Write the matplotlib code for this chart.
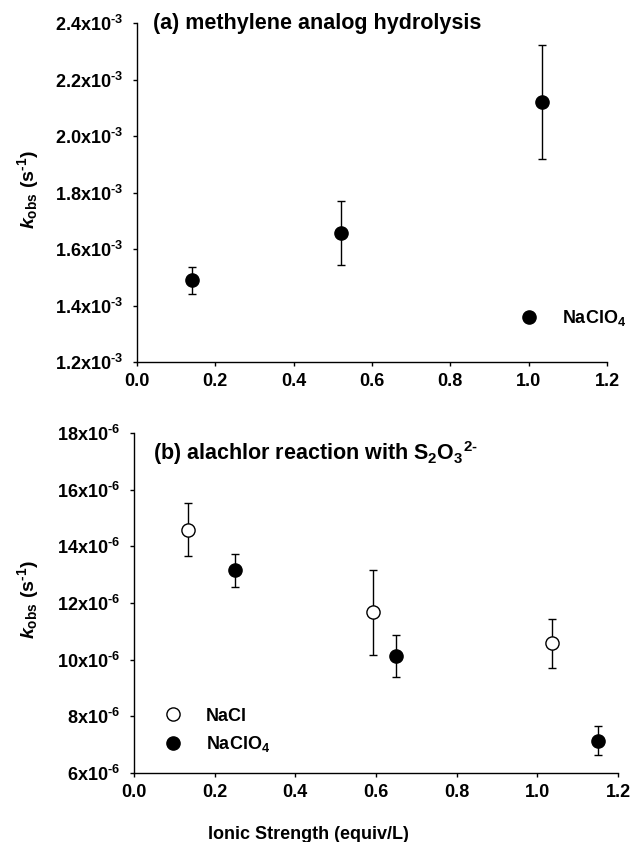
import matplotlib
matplotlib.use("Agg")
import matplotlib.pyplot as plt
from matplotlib.ticker import FixedLocator, FixedFormatter
from matplotlib.lines import Line2D

plt.rcParams['font.family'] = ['Liberation Sans', 'DejaVu Sans']
plt.rcParams['font.weight'] = 'bold'
plt.rcParams['mathtext.fontset'] = 'custom'
plt.rcParams['mathtext.rm'] = 'Liberation Sans:bold'
plt.rcParams['mathtext.bf'] = 'Liberation Sans:bold'
plt.rcParams['mathtext.it'] = 'Liberation Sans:bold:italic'
plt.rcParams['mathtext.sf'] = 'Liberation Sans:bold'

# ---- Panel (a) data: methylene analog hydrolysis, NaClO4 ----
a_x = [0.14, 0.52, 1.035]
a_y = [1.489e-3, 1.658e-3, 2.119e-3]
a_err_lo = [0.048e-3, 0.113e-3, 0.202e-3]
a_err_hi = [0.047e-3, 0.111e-3, 0.202e-3]
a_yticks = [1.2e-3, 1.4e-3, 1.6e-3, 1.8e-3, 2.0e-3, 2.2e-3, 2.4e-3]
a_yticklabels = [r'1.2x10$^{\text{-}3}$', r'1.4x10$^{\text{-}3}$', r'1.6x10$^{\text{-}3}$',
                 r'1.8x10$^{\text{-}3}$', r'2.0x10$^{\text{-}3}$', r'2.2x10$^{\text{-}3}$',
                 r'2.4x10$^{\text{-}3}$']

# ---- Panel (b) data: alachlor reaction with S2O3 2- ----
b_nacl_x = [0.135, 0.593, 1.037]
b_nacl_y = [14.59e-6, 11.67e-6, 10.59e-6]
b_nacl_lo = [0.93e-6, 1.49e-6, 0.87e-6]
b_nacl_hi = [0.94e-6, 1.48e-6, 0.86e-6]
b_naclo4_x = [0.25, 0.65, 1.15]
b_naclo4_y = [13.15e-6, 10.13e-6, 7.13e-6]
b_naclo4_lo = [0.59e-6, 0.73e-6, 0.49e-6]
b_naclo4_hi = [0.58e-6, 0.73e-6, 0.53e-6]
b_yticks = [6e-6, 8e-6, 10e-6, 12e-6, 14e-6, 16e-6, 18e-6]
b_yticklabels = [r'6x10$^{\text{-}6}$', r'8x10$^{\text{-}6}$', r'10x10$^{\text{-}6}$',
                 r'12x10$^{\text{-}6}$', r'14x10$^{\text{-}6}$', r'16x10$^{\text{-}6}$',
                 r'18x10$^{\text{-}6}$']

xticks = [0.0, 0.2, 0.4, 0.6, 0.8, 1.0, 1.2]
xticklabels = ['0.0', '0.2', '0.4', '0.6', '0.8', '1.0', '1.2']

W, H = 638, 842
fig = plt.figure(figsize=(W / 100, H / 100), dpi=100)

def px_axes(l, r, t, b):
    return fig.add_axes([l / W, 1 - b / H, (r - l) / W, (b - t) / H])

ax1 = px_axes(137, 607, 23, 362)
ax2 = px_axes(134, 618, 433, 773)

TICKFS = 13

def style(ax, yticks, ylabels, ylim):
    for s in ['top', 'right']:
        ax.spines[s].set_visible(False)
    for s in ['left', 'bottom']:
        ax.spines[s].set_linewidth(1.0)
    ax.set_xlim(0, 1.2)
    ax.set_ylim(*ylim)
    ax.xaxis.set_major_locator(FixedLocator(xticks))
    ax.xaxis.set_major_formatter(FixedFormatter(xticklabels))
    ax.yaxis.set_major_locator(FixedLocator(yticks))
    ax.yaxis.set_major_formatter(FixedFormatter(ylabels))
    ax.tick_params(axis='x', direction='out', length=3, width=1, pad=5, labelsize=TICKFS)
    ax.tick_params(axis='y', direction='out', length=3, width=1, pad=7, labelsize=TICKFS)
    for lab in ax.get_xticklabels() + ax.get_yticklabels():
        lab.set_fontweight('bold')

style(ax1, a_yticks, a_yticklabels, (1.2e-3, 2.4e-3))
style(ax2, b_yticks, b_yticklabels, (6e-6, 18e-6))

ebkw = dict(ls='none', ecolor='black', elinewidth=1, capsize=3, capthick=1, ms=9.5, marker='o')

ax1.errorbar(a_x, a_y, yerr=[a_err_lo, a_err_hi], mfc='black', mec='black', **ebkw)
ax2.errorbar(b_nacl_x, b_nacl_y, yerr=[b_nacl_lo, b_nacl_hi], mfc='white', mec='black', mew=1, **ebkw)
ax2.errorbar(b_naclo4_x, b_naclo4_y, yerr=[b_naclo4_lo, b_naclo4_hi], mfc='black', mec='black', **ebkw)

for ax in (ax1, ax2):
    for c in ax.collections + ax.lines:
        c.set_clip_on(False)

# legends
h_fill = Line2D([], [], ls='none', marker='o', ms=9.5, mfc='black', mec='black')
h_open = Line2D([], [], ls='none', marker='o', ms=9.5, mfc='white', mec='black', mew=1)
ax1.legend([h_fill], ['NaClO$_4$'], loc='center left', frameon=False,
           bbox_to_anchor=((511 - 137) / 470, (362 - 318) / 339),
           handletextpad=0.8, fontsize=13, borderpad=0, borderaxespad=0)
ax2.legend([h_open, h_fill], ['NaCl', 'NaClO$_4$'], loc='center left', frameon=False,
           bbox_to_anchor=((155 - 134) / 484, (773 - 731) / 340),
           handletextpad=0.8, labelspacing=0.55, fontsize=13, borderpad=0, borderaxespad=0)

# panel titles
TITLEFS = 15.5
ax1.text((153 - 137) / 470, (362 - 23) / 339, '(a) methylene analog hydrolysis',
         transform=ax1.transAxes, ha='left', va='center', fontsize=TITLEFS, fontweight='bold')
ax2.text((153 - 134) / 484, (773 - 453) / 340, '(b) alachlor reaction with S$_2$O$_3$$^{2\\text{-}}$',
         transform=ax2.transAxes, ha='left', va='center', fontsize=TITLEFS, fontweight='bold')

# axis labels
ylab = r'$\mathit{k}_{\mathrm{obs}}$ (s$^{\text{-}1}$)'
ax1.set_ylabel(ylab, fontsize=14, fontweight='bold')
ax2.set_ylabel(ylab, fontsize=14, fontweight='bold')
ax1.yaxis.set_label_coords((28 - 137) / 470, (362 - 190) / 339)
ax2.yaxis.set_label_coords((28 - 134) / 484, (773 - 600) / 340)
ax1.yaxis.label.set_va('center')
ax2.yaxis.label.set_va('center')
ax2.set_xlabel('Ionic Strength (equiv/L)', fontsize=13, fontweight='bold')
ax2.xaxis.set_label_coords((308 - 134) / 484, (773 - 839) / 340)
ax2.xaxis.label.set_va('baseline')

fig.savefig('out.png', dpi=100)
